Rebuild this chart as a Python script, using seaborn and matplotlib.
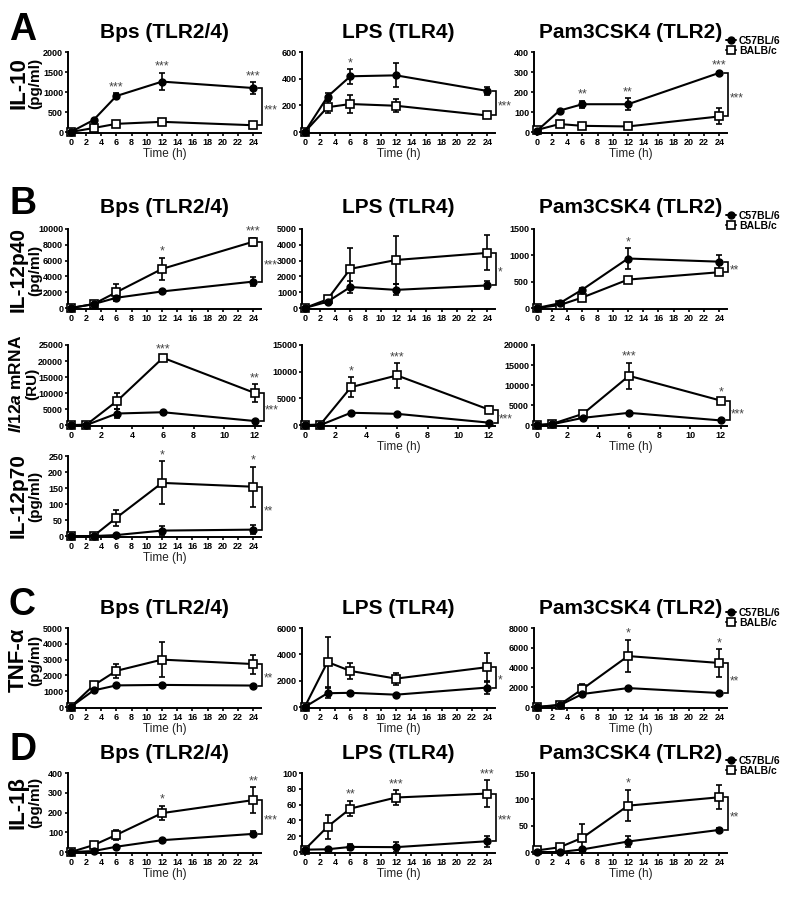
import numpy as np
import seaborn as sns
import matplotlib.pyplot as plt
from matplotlib.lines import Line2D

W, H = 800, 897

TIME_H = [0, 3, 6, 12, 24]
TIME_MRNA = [0, 1, 3, 6, 12]
STRAINS = ["C57BL/6", "BALB/c"]
STIMULI = ["Bps (TLR2/4)", "LPS (TLR4)", "Pam3CSK4 (TLR2)"]

# ---- A: IL-10 (pg/ml)
IL10_BPS_B6 = [0, 300, 900, 1260, 1100]
IL10_BPS_B6_SEM = [0, 25, 70, 220, 150]
IL10_BPS_BALB = [0, 100, 205, 255, 170]
IL10_BPS_BALB_SEM = [0, 15, 25, 30, 30]
IL10_BPS_STARS = ["", "", "***", "***", "***"]

IL10_LPS_B6 = [0, 265, 418, 425, 308]
IL10_LPS_B6_SEM = [0, 30, 55, 90, 30]
IL10_LPS_BALB = [0, 186, 210, 197, 124]
IL10_LPS_BALB_SEM = [0, 45, 70, 50, 20]
IL10_LPS_STARS = ["", "", "*", "", ""]

IL10_PAM_B6 = [5, 107, 139, 139, 296]
IL10_PAM_B6_SEM = [0, 5, 18, 30, 5]
IL10_PAM_BALB = [10, 40, 31, 28, 78]
IL10_PAM_BALB_SEM = [0, 10, 12, 8, 40]
IL10_PAM_STARS = ["", "", "**", "**", "***"]

# ---- B: IL-12p40 (pg/ml)
P40_BPS_B6 = [0, 500, 1300, 2100, 3350]
P40_BPS_B6_SEM = [0, 100, 150, 150, 600]
P40_BPS_BALB = [0, 500, 2000, 4950, 8400]
P40_BPS_BALB_SEM = [0, 100, 1100, 1400, 500]
P40_BPS_STARS = ["", "", "", "*", "***"]

P40_LPS_B6 = [0, 400, 1330, 1150, 1430]
P40_LPS_B6_SEM = [0, 80, 380, 350, 250]
P40_LPS_BALB = [0, 550, 2480, 3040, 3490]
P40_LPS_BALB_SEM = [0, 80, 1300, 1500, 1100]
P40_LPS_STARS = ["", "", "", "", ""]

P40_PAM_B6 = [0, 90, 350, 940, 880]
P40_PAM_B6_SEM = [0, 15, 30, 200, 130]
P40_PAM_BALB = [0, 55, 200, 540, 680]
P40_PAM_BALB_SEM = [0, 10, 25, 30, 50]
P40_PAM_STARS = ["", "", "", "*", ""]

# ---- B: Il12a mRNA (RU)
MRNA_BPS_B6 = [0, 0, 3600, 4000, 1250]
MRNA_BPS_B6_SEM = [0, 0, 1500, 300, 300]
MRNA_BPS_BALB = [0, 100, 7500, 21000, 10000]
MRNA_BPS_BALB_SEM = [0, 50, 2600, 600, 2800]
MRNA_BPS_STARS = ["", "", "", "***", "**"]

MRNA_LPS_B6 = [0, 0, 2300, 2100, 450]
MRNA_LPS_B6_SEM = [0, 0, 200, 200, 100]
MRNA_LPS_BALB = [0, 100, 7100, 9300, 2900]
MRNA_LPS_BALB_SEM = [0, 50, 1900, 2300, 700]
MRNA_LPS_STARS = ["", "", "*", "***", ""]

MRNA_PAM_B6 = [0, 200, 1800, 3050, 1150]
MRNA_PAM_B6_SEM = [0, 50, 200, 200, 150]
MRNA_PAM_BALB = [0, 300, 2800, 12300, 6100]
MRNA_PAM_BALB_SEM = [0, 100, 400, 3300, 600]
MRNA_PAM_STARS = ["", "", "", "***", "*"]

# ---- B: IL-12p70 (pg/ml), Bps only
P70_BPS_B6 = [0, 0, 3, 17, 20]
P70_BPS_B6_SEM = [0, 0, 2, 15, 15]
P70_BPS_BALB = [0, 0, 57, 166, 154]
P70_BPS_BALB_SEM = [0, 0, 25, 67, 63]
P70_BPS_STARS = ["", "", "", "*", "*"]

# ---- C: TNF-a (pg/ml)
TNF_BPS_B6 = [0, 1050, 1370, 1400, 1360]
TNF_BPS_B6_SEM = [0, 60, 60, 80, 60]
TNF_BPS_BALB = [0, 1370, 2290, 3000, 2720]
TNF_BPS_BALB_SEM = [0, 100, 450, 1100, 600]
TNF_BPS_STARS = ["", "", "", "", ""]

TNF_LPS_B6 = [0, 1050, 1080, 940, 1480]
TNF_LPS_B6_SEM = [0, 400, 100, 80, 500]
TNF_LPS_BALB = [0, 3420, 2740, 2160, 3030]
TNF_LPS_BALB_SEM = [0, 1900, 600, 450, 1100]
TNF_LPS_STARS = ["", "", "", "", ""]

TNF_PAM_B6 = [0, 170, 1320, 1920, 1420]
TNF_PAM_B6_SEM = [0, 30, 100, 100, 80]
TNF_PAM_BALB = [0, 230, 1820, 5160, 4460]
TNF_PAM_BALB_SEM = [0, 50, 500, 1650, 1400]
TNF_PAM_STARS = ["", "", "", "*", "*"]

# ---- D: IL-1b (pg/ml)
IL1B_BPS_B6 = [0, 5, 27, 60, 92]
IL1B_BPS_B6_SEM = [0, 3, 5, 6, 13]
IL1B_BPS_BALB = [0, 35, 87, 197, 263]
IL1B_BPS_BALB_SEM = [0, 10, 27, 37, 65]
IL1B_BPS_STARS = ["", "", "", "*", "**"]

IL1B_LPS_B6 = [3, 3.5, 6.5, 6.2, 13.7]
IL1B_LPS_B6_SEM = [0, 2, 4, 6, 7]
IL1B_LPS_BALB = [3, 32, 55, 69, 74]
IL1B_LPS_BALB_SEM = [0, 15, 10, 9, 17]
IL1B_LPS_STARS = ["", "", "**", "***", "***"]

IL1B_PAM_B6 = [0, 0, 5, 20, 42]
IL1B_PAM_B6_SEM = [0, 2, 3, 11, 3]
IL1B_PAM_BALB = [3, 9, 27, 88, 104]
IL1B_PAM_BALB_SEM = [0, 7, 27, 30, 23]
IL1B_PAM_STARS = ["", "", "", "*", ""]

sns.set_style("ticks")
plt.rcParams["font.family"] = ["Liberation Sans", "DejaVu Sans"]
plt.rcParams["text.color"] = "black"
plt.rcParams["axes.labelcolor"] = "black"
plt.rcParams["mathtext.fontset"] = "custom"
plt.rcParams["mathtext.it"] = "Liberation Sans:italic:bold"
plt.rcParams["mathtext.rm"] = "Liberation Sans:bold"

COL_LEFT = [68, 302, 534]
AX_W = 193


def box(left, top, width, height):
    return [left / W, 1 - (top + height) / H, width / W, height / H]


def fpt(x, y):
    return (x / W, 1 - y / H)


fig = plt.figure(figsize=(W / 100, H / 100), dpi=100)


def draw_panel(col, top, height, t, b6, b6_sem, balb, balb_sem, stars, sig,
               ymax, ystep, time_label):
    ax = fig.add_axes(box(COL_LEFT[col], top, AX_W, height))
    xmax = t[-1]
    if xmax == 24:
        xlim = (-0.35, 25.0)
        ax.set_xticks(np.arange(0, 25, 2))
    else:
        xlim = (-0.2, 12.4)
        ax.set_xticks(np.arange(0, 13, 2))
    ppu = AX_W / (xlim[1] - xlim[0])  # pixels per hour

    ax.errorbar(t, balb, yerr=balb_sem, fmt="none", ecolor="black",
                elinewidth=1.2, capsize=2.2, capthick=1.2, zorder=2, clip_on=False)
    ax.errorbar(t, b6, yerr=b6_sem, fmt="none", ecolor="black",
                elinewidth=1.2, capsize=2.2, capthick=1.2, zorder=2, clip_on=False)
    sns.lineplot(x=t, y=balb, ax=ax, color="black", linewidth=1.5,
                 marker="s", markersize=5.5, markerfacecolor="white",
                 markeredgecolor="black", markeredgewidth=1.2,
                 zorder=3, clip_on=False, legend=False)
    sns.lineplot(x=t, y=b6, ax=ax, color="black", linewidth=1.5,
                 marker="o", markersize=5, markerfacecolor="black",
                 markeredgecolor="black", markeredgewidth=1.0,
                 zorder=4, clip_on=False, legend=False)

    # stars above time points
    for i, s in enumerate(stars):
        if s:
            top_val = max(b6[i] + b6_sem[i], balb[i] + balb_sem[i])
            ax.annotate(s, (t[i], top_val), xytext=(0, 0), textcoords="offset points",
                        ha="center", va="bottom", fontsize=9, color="#444444",
                        annotation_clip=False)

    # bracket at last time point
    y1, y2 = b6[-1], balb[-1]
    xv = xmax + 9 / ppu
    xt = xmax + 5 / ppu
    ax.plot([xt, xv, xv, xt], [y1, y1, y2, y2], color="black", lw=1.2,
            clip_on=False, solid_joinstyle="miter")
    ax.annotate(sig, (xv, (y1 + y2) / 2), xytext=(0.8, -2.5), textcoords="offset points",
                ha="left", va="center", fontsize=8.5, color="#444444",
                annotation_clip=False)

    ax.set_xlim(*xlim)
    ax.set_ylim(-0.012 * ymax, ymax)
    ax.set_yticks(np.arange(0, ymax + 1, ystep))
    sns.despine(ax=ax)
    for sp in ("left", "bottom"):
        ax.spines[sp].set_linewidth(1.4)
        ax.spines[sp].set_color("black")
    ax.tick_params(length=2.5, width=1.2, pad=1, labelsize=6.5, colors="black")
    for lab in ax.get_xticklabels() + ax.get_yticklabels():
        lab.set_fontweight("bold")
    ax.set_ylabel("")
    if time_label:
        ax.set_xlabel("Time (h)", fontsize=8.5, labelpad=1, color="#222222")
    else:
        ax.set_xlabel("")
    return ax


# row tops / heights (px)
ROW_A = (52, 81)
ROW_P40 = (229, 80)
ROW_MRNA = (345, 81)
ROW_P70 = (456, 81)
ROW_C = (628, 80)
ROW_D = (773, 80)

PANELS = [
    (0, ROW_A, TIME_H, IL10_BPS_B6, IL10_BPS_B6_SEM, IL10_BPS_BALB, IL10_BPS_BALB_SEM, IL10_BPS_STARS, "***", 2000, 500, True),
    (1, ROW_A, TIME_H, IL10_LPS_B6, IL10_LPS_B6_SEM, IL10_LPS_BALB, IL10_LPS_BALB_SEM, IL10_LPS_STARS, "***", 600, 200, True),
    (2, ROW_A, TIME_H, IL10_PAM_B6, IL10_PAM_B6_SEM, IL10_PAM_BALB, IL10_PAM_BALB_SEM, IL10_PAM_STARS, "***", 400, 100, True),
    (0, ROW_P40, TIME_H, P40_BPS_B6, P40_BPS_B6_SEM, P40_BPS_BALB, P40_BPS_BALB_SEM, P40_BPS_STARS, "***", 10000, 2000, False),
    (1, ROW_P40, TIME_H, P40_LPS_B6, P40_LPS_B6_SEM, P40_LPS_BALB, P40_LPS_BALB_SEM, P40_LPS_STARS, "*", 5000, 1000, False),
    (2, ROW_P40, TIME_H, P40_PAM_B6, P40_PAM_B6_SEM, P40_PAM_BALB, P40_PAM_BALB_SEM, P40_PAM_STARS, "**", 1500, 500, False),
    (0, ROW_MRNA, TIME_MRNA, MRNA_BPS_B6, MRNA_BPS_B6_SEM, MRNA_BPS_BALB, MRNA_BPS_BALB_SEM, MRNA_BPS_STARS, "***", 25000, 5000, False),
    (1, ROW_MRNA, TIME_MRNA, MRNA_LPS_B6, MRNA_LPS_B6_SEM, MRNA_LPS_BALB, MRNA_LPS_BALB_SEM, MRNA_LPS_STARS, "***", 15000, 5000, True),
    (2, ROW_MRNA, TIME_MRNA, MRNA_PAM_B6, MRNA_PAM_B6_SEM, MRNA_PAM_BALB, MRNA_PAM_BALB_SEM, MRNA_PAM_STARS, "***", 20000, 5000, True),
    (0, ROW_P70, TIME_H, P70_BPS_B6, P70_BPS_B6_SEM, P70_BPS_BALB, P70_BPS_BALB_SEM, P70_BPS_STARS, "**", 250, 50, True),
    (0, ROW_C, TIME_H, TNF_BPS_B6, TNF_BPS_B6_SEM, TNF_BPS_BALB, TNF_BPS_BALB_SEM, TNF_BPS_STARS, "**", 5000, 1000, True),
    (1, ROW_C, TIME_H, TNF_LPS_B6, TNF_LPS_B6_SEM, TNF_LPS_BALB, TNF_LPS_BALB_SEM, TNF_LPS_STARS, "*", 6000, 2000, True),
    (2, ROW_C, TIME_H, TNF_PAM_B6, TNF_PAM_B6_SEM, TNF_PAM_BALB, TNF_PAM_BALB_SEM, TNF_PAM_STARS, "**", 8000, 2000, True),
    (0, ROW_D, TIME_H, IL1B_BPS_B6, IL1B_BPS_B6_SEM, IL1B_BPS_BALB, IL1B_BPS_BALB_SEM, IL1B_BPS_STARS, "***", 400, 100, True),
    (1, ROW_D, TIME_H, IL1B_LPS_B6, IL1B_LPS_B6_SEM, IL1B_LPS_BALB, IL1B_LPS_BALB_SEM, IL1B_LPS_STARS, "***", 100, 20, True),
    (2, ROW_D, TIME_H, IL1B_PAM_B6, IL1B_PAM_B6_SEM, IL1B_PAM_BALB, IL1B_PAM_BALB_SEM, IL1B_PAM_STARS, "**", 150, 50, True),
]

for col, (top, hgt), t, b6, b6s, balb, balbs, stars, sig, ymax, ystep, tl in PANELS:
    draw_panel(col, top, hgt, t, b6, b6s, balb, balbs, stars, sig, ymax, ystep, tl)

# titles and panel letters
TITLE_Y = {"A": 33, "B": 207, "C": 608, "D": 753}
for letter, ty in TITLE_Y.items():
    fig.text(*fpt(9, ty - 3), letter, fontsize=27, fontweight="bold", ha="left", va="center")
    for col, name in enumerate(STIMULI):
        fig.text(*fpt(COL_LEFT[col] + AX_W / 2, ty), name, fontsize=15,
                 fontweight="bold", ha="center", va="center")

# legends
legend_handles = [
    Line2D([], [], color="black", lw=1.4, marker="o", markersize=5, markerfacecolor="black"),
    Line2D([], [], color="black", lw=1.4, marker="s", markersize=5.5, markerfacecolor="white",
           markeredgewidth=1.2),
]
for ly in (46, 221, 618, 766):
    fig.legend(legend_handles, STRAINS, loc="center left", bbox_to_anchor=fpt(726, ly),
               frameon=False, handlelength=1.0, handletextpad=0.25, labelspacing=0.0,
               borderpad=0, borderaxespad=0, prop=dict(weight="bold", size=7.5))

# y labels (two lines, rotated): text, text, center y, size, x of each line
YLABELS = [
    ("IL-10", "(pg/ml)", 83, 16, 18.5, 35.5),
    ("IL-12p40", "(pg/ml)", 270, 15, 18.5, 35.5),
    (r"$\mathit{Il12a}$ mRNA", "(RU)", 384, 12.5, 16, 32),
    ("IL-12p70", "(pg/ml)", 496, 15, 18.5, 35.5),
    ("TNF-α", "(pg/ml)", 660, 16, 18.5, 35.5),
    ("IL-1β", "(pg/ml)", 802, 16, 18.5, 35.5),
]
for line1, line2, cy, fs, x1, x2 in YLABELS:
    fig.text(*fpt(x1, cy), line1, rotation=90, fontsize=fs, fontweight="bold",
             ha="center", va="center")
    fig.text(*fpt(x2, cy), line2, rotation=90, fontsize=11, fontweight="bold",
             ha="center", va="center")

fig.savefig("out.png", dpi=100)
